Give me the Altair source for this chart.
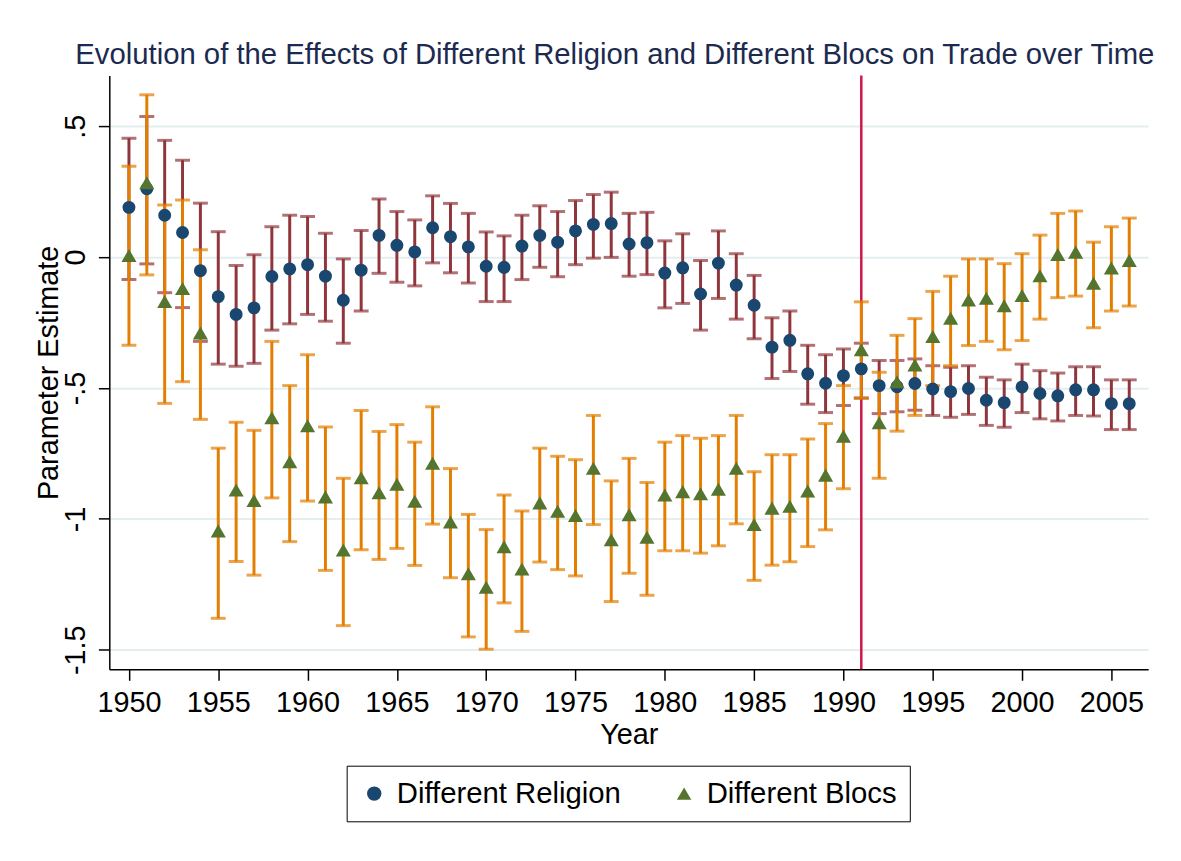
import altair as alt
import pandas as pd

# ---------------- data ----------------
years = list(range(1950, 2007))

religion_est = [0.190, 0.261, 0.160, 0.094, -0.052, -0.151, -0.219, -0.194, -0.074, -0.045,
                -0.029, -0.073, -0.165, -0.050, 0.083, 0.045, 0.020, 0.112, 0.078, 0.039,
                -0.035, -0.039, 0.042, 0.083, 0.057, 0.100, 0.125, 0.128, 0.050, 0.055,
                -0.061, -0.041, -0.141, -0.023, -0.107, -0.184, -0.344, -0.318, -0.446, -0.482,
                -0.453, -0.427, -0.491, -0.495, -0.483, -0.504, -0.514, -0.502, -0.547, -0.556,
                -0.496, -0.521, -0.530, -0.507, -0.507, -0.560, -0.560]
religion_hi = [0.454, 0.537, 0.446, 0.370, 0.206, 0.097, -0.032, 0.009, 0.116, 0.160,
               0.155, 0.091, -0.007, 0.102, 0.222, 0.174, 0.142, 0.234, 0.205, 0.167,
               0.096, 0.081, 0.160, 0.196, 0.174, 0.216, 0.239, 0.248, 0.167, 0.171,
               0.062, 0.089, -0.013, 0.100, 0.013, -0.070, -0.232, -0.206, -0.337, -0.373,
               -0.351, -0.329, -0.395, -0.395, -0.389, -0.415, -0.421, -0.415, -0.459, -0.469,
               -0.409, -0.434, -0.443, -0.419, -0.419, -0.469, -0.469]
religion_lo = [-0.086, -0.026, -0.136, -0.193, -0.322, -0.409, -0.417, -0.406, -0.279, -0.255,
               -0.219, -0.245, -0.329, -0.206, -0.062, -0.096, -0.110, -0.022, -0.060, -0.099,
               -0.170, -0.170, -0.086, -0.039, -0.075, -0.029, -0.004, -0.001, -0.073, -0.067,
               -0.194, -0.177, -0.279, -0.158, -0.237, -0.312, -0.464, -0.437, -0.562, -0.594,
               -0.567, -0.538, -0.598, -0.591, -0.585, -0.605, -0.612, -0.601, -0.643, -0.650,
               -0.594, -0.618, -0.626, -0.605, -0.607, -0.659, -0.659]

blocs_est = [0.006, 0.284, -0.170, -0.120, -0.290, -1.046, -0.890, -0.930, -0.614, -0.782,
             -0.644, -0.916, -1.119, -0.843, -0.900, -0.868, -0.933, -0.788, -1.012, -1.210,
             -1.261, -1.107, -1.192, -0.939, -0.971, -0.987, -0.807, -1.080, -0.984, -1.070,
             -0.909, -0.896, -0.904, -0.887, -0.807, -1.022, -0.959, -0.952, -0.894, -0.833,
             -0.684, -0.354, -0.633, -0.476, -0.412, -0.303, -0.234, -0.164, -0.157, -0.186,
             -0.147, -0.071, 0.010, 0.019, -0.100, -0.042, -0.013]
blocs_hi = [0.347, 0.620, 0.199, 0.218, 0.028, -0.730, -0.631, -0.662, -0.322, -0.491,
            -0.373, -0.649, -0.845, -0.586, -0.666, -0.640, -0.707, -0.572, -0.808, -0.983,
            -1.041, -0.909, -0.970, -0.730, -0.761, -0.774, -0.605, -0.855, -0.769, -0.861,
            -0.707, -0.682, -0.692, -0.682, -0.605, -0.820, -0.755, -0.755, -0.695, -0.636,
            -0.491, -0.171, -0.440, -0.299, -0.235, -0.131, -0.073, -0.007, -0.007, -0.025,
            0.013, 0.084, 0.167, 0.176, 0.057, 0.116, 0.149]
blocs_lo = [-0.337, -0.068, -0.559, -0.476, -0.620, -1.380, -1.163, -1.215, -0.920, -1.087,
            -0.932, -1.197, -1.408, -1.118, -1.155, -1.113, -1.178, -1.020, -1.225, -1.451,
            -1.498, -1.321, -1.430, -1.165, -1.194, -1.218, -1.022, -1.316, -1.208, -1.292,
            -1.122, -1.122, -1.131, -1.103, -1.019, -1.235, -1.177, -1.164, -1.106, -1.042,
            -0.885, -0.540, -0.845, -0.665, -0.605, -0.491, -0.415, -0.338, -0.322, -0.354,
            -0.319, -0.237, -0.155, -0.149, -0.270, -0.206, -0.187]

series_names = ["Different Religion", "Different Blocs"]
point_colors = ["#1a476f", "#55752f"]
ci_colors = ["#90353b", "#e37e00"]
shapes = ["circle", "triangle-up"]
vline_year = [1991]

x_ticks = list(range(1950, 2006, 5))
y_ticks = [-1.5, -1.0, -0.5, 0.0, 0.5]

rows = []
for name, est, lo, hi, cc in [
    (series_names[0], religion_est, religion_lo, religion_hi, ci_colors[0]),
    (series_names[1], blocs_est, blocs_lo, blocs_hi, ci_colors[1]),
]:
    for y, e, l, h in zip(years, est, lo, hi):
        rows.append({"year": y, "series": name, "est": e, "lo": l, "hi": h, "ci_color": cc})
df = pd.DataFrame(rows)
vdf = pd.DataFrame({"year": vline_year})

FONT = "Liberation Sans"
FS = 29
xscale = alt.Scale(domain=[1948.9, 2007.06], nice=False, zero=False)
yscale = alt.Scale(domain=[-1.575, 0.694], nice=False, zero=False)

xaxis = alt.Axis(values=x_ticks, format="d", title="Year", grid=False,
                 labelFontSize=FS, titleFontSize=FS, tickSize=11, labelPadding=8,
                 titlePadding=4, labelFlush=False)
yaxis = alt.Axis(values=y_ticks, title="Parameter Estimate", grid=True,
                 gridColor="#e4eef0", gridWidth=2,
                 labelExpr="replace(toString(datum.value), '0.', '.')",
                 labelAngle=270, labelFontSize=FS, titleFontSize=FS, tickSize=11,
                 labelPadding=8, titlePadding=-2)

base = alt.Chart(df)

vline = alt.Chart(vdf).mark_rule(color="#cf1747", strokeWidth=2.5).encode(
    x=alt.X("year:Q", scale=xscale, axis=xaxis)
)

def ci_layers(name):
    src = base.transform_filter(alt.datum.series == name)
    bars = src.mark_rule(strokeWidth=3).encode(
        x=alt.X("year:Q", scale=xscale, axis=xaxis),
        y=alt.Y("lo:Q", scale=yscale, axis=yaxis),
        y2="hi:Q",
        color=alt.Color("ci_color:N", scale=None),
    )
    caps = src.transform_fold(["lo", "hi"], as_=["end", "val"]).mark_tick(
        orient="horizontal", size=15, thickness=3
    ).encode(
        x=alt.X("year:Q", scale=xscale, axis=xaxis),
        y=alt.Y("val:Q", scale=yscale, axis=yaxis),
        color=alt.Color("ci_color:N", scale=None),
    )
    return [bars, caps]

legend = alt.Legend(
    title=None, orient="none", legendX=239, legendY=695, direction="horizontal",
    strokeColor="black", fillColor="white", padding=13,
    labelFont=FONT, labelFontSize=29.5, labelColor="black", labelOffset=8, labelLimit=500,
    columnPadding=48, symbolSize=210, symbolStrokeWidth=0, symbolOpacity=1,
)

points = base.mark_point(filled=True, opacity=1, size=170).encode(
    x=alt.X("year:Q", scale=xscale, axis=xaxis),
    y=alt.Y("est:Q", scale=yscale, axis=yaxis),
    color=alt.Color("series:N", scale=alt.Scale(domain=series_names, range=point_colors), legend=legend),
    shape=alt.Shape("series:N", scale=alt.Scale(domain=series_names, range=shapes), legend=legend),
)
tri = points.transform_filter(alt.datum.series == series_names[1]).mark_point(filled=True, opacity=1, size=230)
dots = points.transform_filter(alt.datum.series == series_names[0])

layers = [vline] + ci_layers(series_names[0]) + ci_layers(series_names[1]) + [dots, tri]

chart = alt.layer(*layers).properties(
    width=1046, height=598,
    padding={"left": 102, "top": 65, "right": 25, "bottom": 180},
    autosize=alt.AutoSizeParams(type="none"),
    title=alt.TitleParams(
        "Evolution of the Effects of Different Religion and Different Blocs on Trade over Time",
        font=FONT, fontSize=29.5, fontWeight="normal", color="#1c2a4f",
        anchor="middle", dx=-14, offset=4,
    ),
).configure_axis(
    labelFont=FONT, titleFont=FONT, labelColor="black", titleColor="black",
    titleFontWeight="normal", domainColor="black", domainWidth=1.5,
    tickColor="black", tickWidth=1.5,
).configure_legend(
    symbolOpacity=1,
).configure_view(stroke=None)

chart.save("out.html", embed_options={"renderer": "svg", "actions": False})
